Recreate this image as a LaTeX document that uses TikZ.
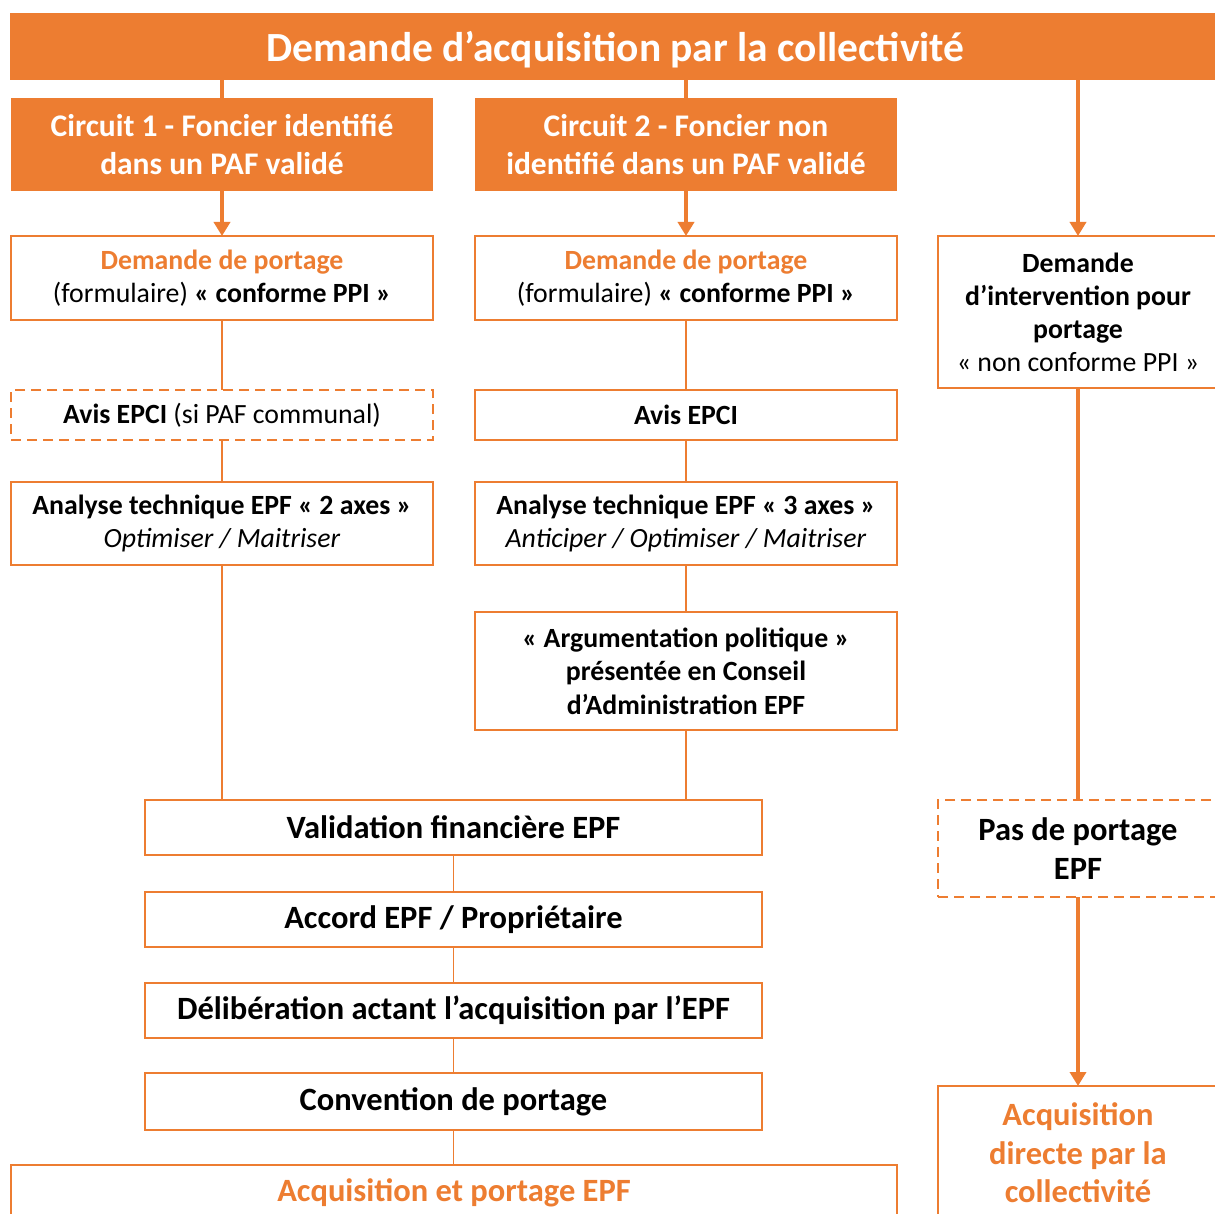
\documentclass[tikz,border=0pt]{standalone}
\usepackage{fontspec}
\setmainfont{Carlito}
\usetikzlibrary{arrows.meta}
\definecolor{orng}{HTML}{ED7D31}
\tikzset{
  box/.style={draw=orng, line width=1.6pt, fill=white, anchor=north west, inner sep=0pt, outer sep=0pt, align=center, font=\fontsize{27.8}{33}\selectfont},
  dbox/.style={box, dash pattern=on 10pt off 6pt},
  bigbox/.style={box, font=\bfseries\fontsize{32.5}{39}\selectfont},
  obox/.style={fill=orng, draw=none, anchor=north west, inner sep=0pt, outer sep=0pt, align=center, text=white, font=\bfseries\fontsize{31.5}{38}\selectfont},
  conn/.style={draw=orng, line width=1.8pt},
  bigconn/.style={draw=orng, line width=4.5pt},
  bigarrow/.style={bigconn, -{Triangle[length=14pt,width=16pt]}},
}
\begin{document}
\begin{tikzpicture}[x=1pt,y=-1pt]
\useasboundingbox (0,0) rectangle (1215,1214);
\clip (0,0) rectangle (1215,1214);
\fill[white] (0,0) rectangle (1215,1214);
% top bar
\node[obox, minimum width=1211, minimum height=67, text depth=0pt, font=\bfseries\fontsize{41.5}{44}\selectfont] (top) at (10,13) {Demande d’acquisition par la collectivité};
% circuits
\node[obox, minimum width=422, minimum height=93] (c1) at (11,98) {Circuit 1 - Foncier identifié\\dans un PAF validé};
\node[obox, minimum width=422, minimum height=93] (c2) at (475,98) {Circuit 2 - Foncier non\\identifié dans un PAF validé};
% demande de portage
\node[box, minimum width=422, minimum height=84] (d1) at (11,236) {{\color{orng}\bfseries Demande de portage}\\(formulaire) \textbf{« conforme PPI »}};
\node[box, minimum width=422, minimum height=84] (d2) at (475,236) {{\color{orng}\bfseries Demande de portage}\\(formulaire) \textbf{« conforme PPI »}};
\node[box, minimum width=280, minimum height=152] (r1) at (938,236) {\textbf{Demande}\\\textbf{d’intervention pour}\\\textbf{portage}\\« non conforme PPI »};
% avis
\node[dbox, minimum width=422, minimum height=50] (av1) at (11,390) {\textbf{Avis EPCI} (si PAF communal)};
\node[box, minimum width=422, minimum height=50] (av2) at (475,390) {\textbf{Avis EPCI}};
% analyse
\node[box, minimum width=422, minimum height=83] (an1) at (11,482) {\textbf{Analyse technique EPF « 2 axes »}\\\textit{Optimiser / Maitriser}};
\node[box, minimum width=422, minimum height=83] (an2) at (475,482) {\textbf{Analyse technique EPF « 3 axes »}\\\textit{Anticiper / Optimiser / Maitriser}};
% argumentation
\node[box, minimum width=422, minimum height=118, font=\bfseries\fontsize{27.8}{33.5}\selectfont] (arg) at (475,612) {« Argumentation politique »\\présentée en Conseil\\d’Administration EPF};
% central chain
\node[bigbox, minimum width=617, minimum height=55] (val) at (145,800) {Validation financière EPF};
\node[bigbox, minimum width=617, minimum height=55] (acc) at (145,892) {Accord EPF / Propriétaire};
\node[bigbox, minimum width=617, minimum height=55] (del) at (145,983) {Délibération actant l’acquisition par l’EPF};
\node[bigbox, minimum width=617, minimum height=57] (conv) at (145,1073) {Convention de portage};
\node[bigbox, minimum width=886, minimum height=56, text=orng] (acq) at (11,1165) {Acquisition et portage EPF};
% right column
\node[bigbox, minimum width=280, minimum height=97, dash pattern=on 10pt off 6pt] (pas) at (938,800) {Pas de portage\\EPF};
\node[bigbox, minimum width=280, minimum height=134, text=orng, font=\bfseries\fontsize{32.5}{38.5}\selectfont] (dir) at (938,1086) {Acquisition\\directe par la\\collectivité};
% connectors
\draw[bigconn] (top.south -| c1.north) -- (c1.north);
\draw[bigconn] (top.south -| c2.north) -- (c2.north);
\draw[bigarrow] (c1.south) -- (d1.north);
\draw[bigarrow] (c2.south) -- (d2.north);
\draw[bigarrow] (top.south -| r1.north) -- (r1.north);
\draw[conn] (d1.south) -- (av1.north);
\draw[conn] (av1.south) -- (an1.north);
\draw[conn] (an1.south) -- (an1.south |- val.north);
\draw[conn] (d2.south) -- (av2.north);
\draw[conn] (av2.south) -- (an2.north);
\draw[conn] (an2.south) -- (arg.north);
\draw[conn] (arg.south) -- (arg.south |- val.north);
\draw[conn] (val.south) -- (acc.north);
\draw[conn] (acc.south) -- (del.north);
\draw[conn] (del.south) -- (conv.north);
\draw[conn] (conv.south) -- (conv.south |- acq.north);
\draw[bigconn] (r1.south) -- (pas.north);
\draw[bigarrow] (pas.south) -- (dir.north);
\end{tikzpicture}
\end{document}
